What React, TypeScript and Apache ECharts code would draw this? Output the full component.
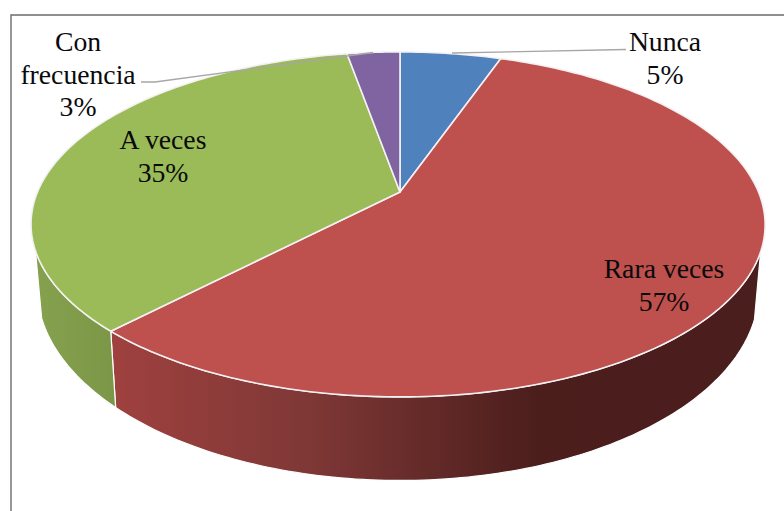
import React, { useEffect, useRef } from "react";
import * as echarts from "echarts";

const categories = ["Nunca", "Rara veces", "A veces", "Con\nfrecuencia"];
const percentages = [5, 57, 35, 3];
const topColors = ["#4f81bd", "#be504d", "#9bbb59", "#8064a2"];
const labelCenters = [
  [665, 58],
  [664, 285],
  [163, 156],
  [78, 74],
];
const leaderLines = [
  [[626, 49.5], [452, 53]],
  [[141, 82], [155, 82], [373, 52.5]],
];

// Projection of the tilted disc: a circle seen in perspective, with its hub at (HUB_X, HUB_Y).
const HUB_X = 400;
const HUB_Y = 192;
const RADIUS_X = 360.5;
const RADIUS_Y = 166.4;
const TILT = 0.188;
const SKEW_LEFT = 2;

// Slight clockwise turn of the projected angle: strongest on the far side of the disc,
// and fading to nothing at its very top.
const TURN_DEG = 1.3;
const TURN_FADE_DEG = 18;

// The lower rim of the disc, relative to the upper rim.
const RIM_SCALE_X = 0.983;
const RIM_SCALE_Y = 1.11;
const RIM_DROP = 61;

// Range of angles (degrees clockwise from the top) where the outer wall can be seen.
const WALL_FROM = 109;
const WALL_TO = 250;

const WALL_FILLS: Record<number, any> = {
  1: {
    type: "linear", x: 0, y: 0, x2: 1, y2: 0,
    colorStops: [
      { offset: 0, color: "#9f413f" },
      { offset: 0.3, color: "#7f3836" },
      { offset: 0.655, color: "#4b1e1c" },
      { offset: 1, color: "#4b1e1e" },
    ],
  },
  2: {
    type: "linear", x: 0, y: 0, x2: 1, y2: 0,
    colorStops: [
      { offset: 0, color: "#86a14e" },
      { offset: 1, color: "#7b9646" },
    ],
  },
};

function topRim(deg: number): [number, number] {
  const fromTop = Math.min(deg, 360 - deg);
  const half = Math.cos((deg * Math.PI) / 360);
  const turned = deg + TURN_DEG * Math.min(1, fromTop / TURN_FADE_DEG) * (0.3 + 0.7 * half * half);
  const t = (turned * Math.PI) / 180;
  const u = Math.sin(t);
  const v = Math.cos(t);
  const w = 1 + TILT * v;
  return [HUB_X + (RADIUS_X * u) / w - SKEW_LEFT * (1 - v * v), HUB_Y - (RADIUS_Y * v) / w];
}

function bottomRim(deg: number): [number, number] {
  const [x, y] = topRim(deg);
  return [HUB_X + (x - HUB_X) * RIM_SCALE_X, HUB_Y + (y - HUB_Y) * RIM_SCALE_Y + RIM_DROP];
}

function arcPoints(rim: (d: number) => [number, number], from: number, to: number) {
  const steps = Math.max(2, Math.ceil(Math.abs(to - from)));
  const pts: [number, number][] = [];
  for (let i = 0; i <= steps; i++) pts.push(rim(from + ((to - from) * i) / steps));
  return pts;
}

function sliceAngles(index: number): [number, number] {
  const total = percentages.reduce((a, b) => a + b, 0);
  const before = percentages.slice(0, index).reduce((a, b) => a + b, 0);
  return [(before / total) * 360, ((before + percentages[index]) / total) * 360];
}

const seriesData = percentages.map((value, i) => ({ name: categories[i], value }));

export default function App() {
  const ref = useRef<HTMLDivElement>(null);

  useEffect(() => {
    document.body.style.margin = "0";
    const chart = echarts.init(ref.current!, undefined, { renderer: "svg" });
    chart.setOption({
      animation: false,
      backgroundColor: "#ffffff",
      graphic: [
        {
          type: "polyline",
          z: 0,
          shape: { points: [[11, 512], [11, 15], [785, 15]] },
          style: { stroke: "#6b6b6b", lineWidth: 1.4, fill: "none" },
        },
      ],
      series: [
        {
          // Outer wall of the disc, only on the slices facing the viewer.
          type: "custom",
          coordinateSystem: "none",
          z: 1,
          data: seriesData,
          renderItem: (params: any) => {
            const [a, b] = sliceAngles(params.dataIndex);
            const from = Math.max(a, WALL_FROM);
            const to = Math.min(b, WALL_TO);
            if (to <= from) return { type: "group", children: [] };
            const points = [
              ...arcPoints(topRim, from, to),
              ...arcPoints(bottomRim, to, from),
            ];
            return {
              type: "polygon",
              shape: { points },
              style: { fill: WALL_FILLS[params.dataIndex], stroke: "#ffffff", lineWidth: 1.2 },
            };
          },
        },
        {
          // Top face of the disc.
          type: "custom",
          coordinateSystem: "none",
          z: 2,
          data: seriesData,
          renderItem: (params: any) => {
            const [a, b] = sliceAngles(params.dataIndex);
            const points = [[HUB_X, HUB_Y], ...arcPoints(topRim, a, b)];
            return {
              type: "polygon",
              shape: { points },
              style: {
                fill: topColors[params.dataIndex],
                stroke: "#f4f1f4",
                lineWidth: 1.6,
                lineJoin: "round",
              },
            };
          },
        },
        {
          // Leader lines running from the small slices to their labels.
          type: "custom",
          coordinateSystem: "none",
          z: 3,
          data: leaderLines.map((_, i) => i),
          renderItem: (params: any) => ({
            type: "polyline",
            shape: { points: leaderLines[params.dataIndex] },
            style: { stroke: "#a6a6a6", lineWidth: 1.4, fill: "none" },
          }),
        },
        {
          // Category name and percentage on each slice.
          type: "custom",
          coordinateSystem: "none",
          z: 4,
          data: seriesData,
          renderItem: (params: any) => {
            const i = params.dataIndex;
            return {
              type: "text",
              x: labelCenters[i][0],
              y: labelCenters[i][1],
              style: {
                text: `${categories[i]}\n${percentages[i]}%`,
                fontFamily: "Liberation Serif",
                fontSize: 27.7,
                lineHeight: 32.5,
                fill: "#0a0a0a",
                align: "center",
                verticalAlign: "middle",
              },
            };
          },
        },
      ],
    });
    return () => chart.dispose();
  }, []);

  return <div ref={ref} style={{ width: 784, height: 511, overflow: "hidden" }} />;
}
